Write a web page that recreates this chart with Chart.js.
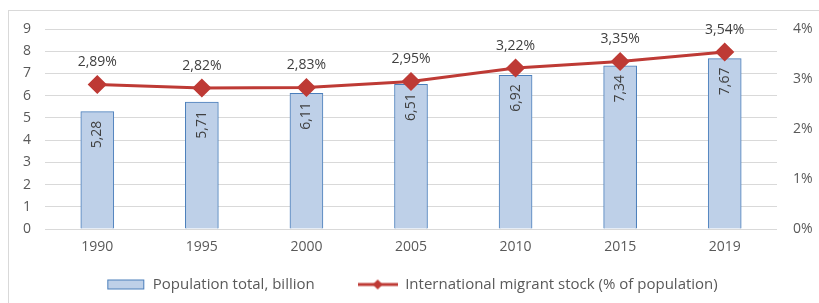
<!DOCTYPE html>
<html>
<head>
<meta charset="utf-8">
<script src="https://cdn.jsdelivr.net/npm/chart.js@4/dist/chart.umd.min.js"></script>
<style>
  body { margin: 0; background: #fff; }
  #wrap { position: relative; width: 819px; height: 303px; }
  #frame { position: absolute; left: 8px; top: 10px; width: 830px; height: 300px; border: 1px solid #d9d9d9; }
  canvas { position: absolute; left: 0; top: 0; }
</style>
</head>
<body>
<div id="wrap">
  <div id="frame"></div>
  <canvas id="popChart" width="819" height="303"></canvas>
</div>
<script>
const years = ['1990', '1995', '2000', '2005', '2010', '2015', '2019'];
const population = [5.28, 5.71, 6.11, 6.51, 6.92, 7.34, 7.67];
const migrantShare = [2.89, 2.82, 2.83, 2.95, 3.22, 3.35, 3.54];
const leftTicks = [0, 1, 2, 3, 4, 5, 6, 7, 8, 9];
const rightTicks = ['0%', '1%', '2%', '3%', '4%'];

const barFill = '#bed0e8';
const barEdge = '#4a7ebb';
const lineRed = '#be3a35';
const textGrey = '#595959';
const fontFam = '"Open Sans", "Liberation Sans", sans-serif';

const fmt = v => v.toFixed(2).replace('.', ',');

// small swatches for the legend
function swatch(kind) {
    const c = document.createElement('canvas');
    c.width = 40; c.height = 12;
    const g = c.getContext('2d');
    if (kind === 'bar') {
        g.fillStyle = barFill;
        g.fillRect(2, 1, 37, 10);
        g.strokeStyle = barEdge;
        g.lineWidth = 1;
        g.strokeRect(2.5, 1.5, 36, 9);
    } else {
        g.strokeStyle = lineRed;
        g.lineWidth = 3;
        g.beginPath(); g.moveTo(0, 6); g.lineTo(40, 6); g.stroke();
        g.fillStyle = lineRed;
        g.beginPath(); g.moveTo(20, 1); g.lineTo(25, 6); g.lineTo(20, 11); g.lineTo(15, 6); g.closePath(); g.fill();
    }
    return c;
}

// value labels drawn at the element positions chart.js computed
const valueLabels = {
    id: 'valueLabels',
    afterDatasetsDraw(chart) {
        const g = chart.ctx;
        g.save();
        g.font = '14px ' + fontFam;
        g.fillStyle = '#404040';
        chart.getDatasetMeta(0).data.forEach((bar, i) => {
            g.save();
            g.translate(bar.x, bar.y + 9);
            g.rotate(-Math.PI / 2);
            g.textAlign = 'right';
            g.textBaseline = 'middle';
            g.fillText(fmt(population[i]), 0, 0);
            g.restore();
        });
        chart.getDatasetMeta(1).data.forEach((pt, i) => {
            g.textAlign = 'center';
            g.textBaseline = 'middle';
            g.fillText(fmt(migrantShare[i]) + '%', pt.x, pt.y - 22);
        });
        g.restore();
    }
};

const ctx = document.getElementById('popChart').getContext('2d');
const popChart = new Chart(ctx, {
    type: 'bar',
    data: {
        labels: years,
        datasets: [{
            label: 'Population total, billion',
            data: population,
            backgroundColor: barFill,
            borderColor: barEdge,
            borderWidth: 1,
            barThickness: 33,
            yAxisID: 'y',
            order: 2
        }, {
            type: 'line',
            label: 'International migrant stock (% of population)',
            data: migrantShare,
            borderColor: lineRed,
            backgroundColor: lineRed,
            borderWidth: 3,
            pointStyle: 'rectRot',
            pointRadius: 7.5,
            pointHoverRadius: 7.5,
            yAxisID: 'y2',
            order: 1
        }]
    },
    options: {
        responsive: false,
        animation: false,
        layout: {
            padding: { left: 8, right: 4, top: 29, bottom: 1 }
        },
        scales: {
            x: {
                grid: { display: false },
                border: { display: false },
                ticks: { color: textGrey, font: { size: 14, family: fontFam }, padding: 2 },
                afterFit(s) { s.height = 44; }
            },
            y: {
                position: 'left',
                min: 0, max: 9,
                afterBuildTicks(s) { s.ticks = leftTicks.map(v => ({ value: v })); },
                grid: { color: '#d9d9d9', lineWidth: 1, drawTicks: false },
                border: { display: false },
                ticks: { color: textGrey, font: { size: 14, family: fontFam }, padding: 14 },
                afterFit(s) { s.width = 37; }
            },
            y2: {
                position: 'right',
                min: 0, max: 4,
                afterBuildTicks(s) { s.ticks = rightTicks.map((t, i) => ({ value: i })); },
                grid: { display: false },
                border: { display: false },
                ticks: {
                    color: textGrey, font: { size: 14, family: fontFam }, padding: 8,
                    callback: (v, i) => rightTicks[i]
                },
                afterFit(s) { s.width = 38; }
            }
        },
        plugins: {
            legend: {
                position: 'bottom',
                labels: {
                    color: textGrey,
                    font: { size: 15, family: fontFam },
                    usePointStyle: true,
                    pointStyleWidth: 40,
                    padding: 4,
                    generateLabels(chart) {
                        return chart.data.datasets.map((ds, i) => ({
                            // trailing spaces widen the gap between the two entries
                            text: i === 0 ? ds.label + '\u00a0'.repeat(10) : ds.label,
                            fontColor: textGrey,
                            pointStyle: swatch(i === 0 ? 'bar' : 'line'),
                            datasetIndex: i,
                            hidden: false,
                            lineWidth: 0
                        }));
                    }
                }
            },
            tooltip: { enabled: false }
        }
    },
    plugins: [valueLabels]
});
</script>
</body>
</html>
